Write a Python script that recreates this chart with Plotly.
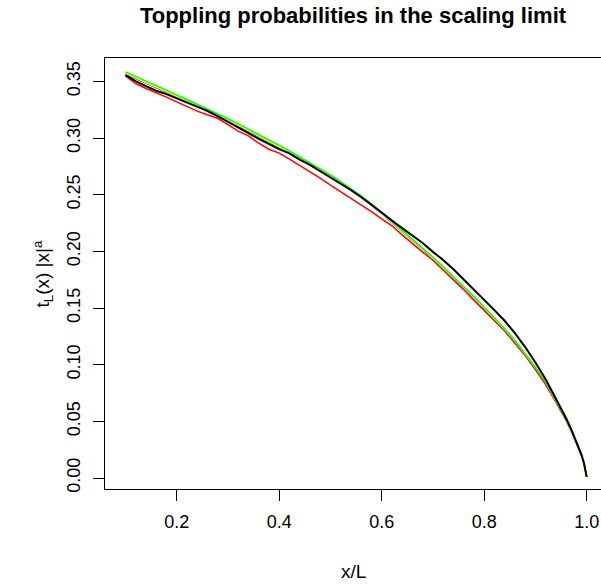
import plotly.graph_objects as go

x_over_L = [0.10, 0.12, 0.14, 0.16, 0.18, 0.20, 0.22, 0.24, 0.26, 0.28,
            0.30, 0.32, 0.34, 0.36, 0.38, 0.40, 0.42, 0.44, 0.46, 0.48,
            0.50, 0.52, 0.54, 0.56, 0.58, 0.60, 0.62, 0.64, 0.66, 0.68,
            0.70, 0.72, 0.74, 0.76, 0.78, 0.80, 0.82, 0.84, 0.86, 0.88,
            0.90, 0.92, 0.94, 0.95, 0.96, 0.97, 0.98, 0.99, 0.995, 1.00]

black_vals = [0.3556, 0.3502, 0.3458, 0.3418, 0.3388, 0.3350, 0.3312, 0.3278, 0.3240, 0.3194,
              0.3142, 0.3092, 0.3044, 0.2994, 0.2946, 0.2902, 0.2866, 0.2810, 0.2764, 0.2710,
              0.2655, 0.2598, 0.2542, 0.2480, 0.2416, 0.2344, 0.2272, 0.2204, 0.2134, 0.2074,
              0.1996, 0.1924, 0.1842, 0.1754, 0.1664, 0.1572, 0.1482, 0.1388, 0.1278, 0.1156,
              0.1020, 0.0872, 0.0704, 0.0616, 0.0527, 0.0429, 0.0322, 0.0204, 0.0128, 0.0010]

red_vals = [0.3550, 0.3482, 0.3438, 0.3403, 0.3362, 0.3320, 0.3278, 0.3238, 0.3206, 0.3175,
            0.3118, 0.3062, 0.3020, 0.2955, 0.2902, 0.2867, 0.2814, 0.2758, 0.2708, 0.2647,
            0.2585, 0.2528, 0.2472, 0.2408, 0.2352, 0.2288, 0.2226, 0.2146, 0.2066, 0.1994,
            0.1922, 0.1838, 0.1755, 0.1663, 0.1570, 0.1482, 0.1392, 0.1298, 0.1190, 0.1080,
            0.0958, 0.0824, 0.0670, 0.0591, 0.0507, 0.0413, 0.0310, 0.0196, 0.0123, 0.0010]

green_vals = [0.3585, 0.3543, 0.3502, 0.3462, 0.3422, 0.3382, 0.3341, 0.3300, 0.3258, 0.3215,
              0.3171, 0.3126, 0.3080, 0.3033, 0.2985, 0.2936, 0.2886, 0.2835, 0.2783, 0.2730,
              0.2675, 0.2617, 0.2556, 0.2491, 0.2420, 0.2346, 0.2264, 0.2188, 0.2110, 0.2030,
              0.1948, 0.1865, 0.1780, 0.1692, 0.1602, 0.1510, 0.1415, 0.1317, 0.1215, 0.1102,
              0.0979, 0.0848, 0.0690, 0.0605, 0.0518, 0.0422, 0.0316, 0.0198, 0.0124, 0.0010]

yellow_vals = [0.3572, 0.3530, 0.3488, 0.3448, 0.3408, 0.3368, 0.3327, 0.3286, 0.3244, 0.3201,
               0.3157, 0.3112, 0.3066, 0.3019, 0.2971, 0.2922, 0.2872, 0.2821, 0.2769, 0.2716,
               0.2662, 0.2605, 0.2545, 0.2481, 0.2411, 0.2338, 0.2256, 0.2180, 0.2102, 0.2022,
               0.1940, 0.1857, 0.1772, 0.1685, 0.1596, 0.1504, 0.1409, 0.1311, 0.1210, 0.1097,
               0.0976, 0.0846, 0.0688, 0.0604, 0.0517, 0.0421, 0.0315, 0.0198, 0.0124, 0.0010]

blue_vals = [0.3566, 0.3524, 0.3482, 0.3442, 0.3402, 0.3362, 0.3321, 0.3280, 0.3238, 0.3195,
             0.3151, 0.3106, 0.3060, 0.3013, 0.2965, 0.2916, 0.2866, 0.2815, 0.2763, 0.2710,
             0.2656, 0.2599, 0.2540, 0.2476, 0.2407, 0.2334, 0.2252, 0.2176, 0.2098, 0.2018,
             0.1936, 0.1853, 0.1768, 0.1681, 0.1592, 0.1500, 0.1406, 0.1308, 0.1207, 0.1094,
             0.0973, 0.0844, 0.0686, 0.0602, 0.0516, 0.0420, 0.0314, 0.0197, 0.0123, 0.0010]

x_ticks = [0.2, 0.4, 0.6, 0.8, 1.0]
y_ticks = [0.00, 0.05, 0.10, 0.15, 0.20, 0.25, 0.30, 0.35]

series = [
    (red_vals, "#FF0000", 1.5),
    (blue_vals, "#0000FF", 1.2),
    (yellow_vals, "#FFFF00", 1.5),
    (green_vals, "#00FF00", 1.5),
    (black_vals, "#000000", 2.0),
]

fig = go.Figure()
for vals, col, w in series:
    fig.add_trace(go.Scatter(x=x_over_L, y=vals, mode="lines",
                             line=dict(color=col, width=w), showlegend=False))

font_family = "Liberation Sans, Arial, Helvetica, sans-serif"

fig.update_layout(
    width=601, height=585,
    margin=dict(l=105, r=0, t=58, b=96, pad=0),
    paper_bgcolor="white", plot_bgcolor="white",
    font=dict(family=font_family, size=18, color="black"),
    title=dict(text="<b>Toppling probabilities in the scaling limit</b>",
               x=0.5, xref="paper", xanchor="center",
               y=1 - 15 / 585, yref="container", yanchor="middle",
               font=dict(size=22, family=font_family, color="black")),
    xaxis=dict(range=[0.0601, 1.028], tickvals=x_ticks,
               ticktext=[f"{v:.1f}" for v in x_ticks],
               showgrid=False, zeroline=False, showline=True, linecolor="black",
               linewidth=1, mirror=True, ticks="outside", ticklen=11,
               tickcolor="black", tickwidth=1, ticklabelstandoff=5,
               tickfont=dict(size=18)),
    yaxis=dict(range=[-0.0097, 0.3707], tickvals=y_ticks,
               ticktext=[f"{v:.2f}" for v in y_ticks],
               showgrid=False, zeroline=False, showline=True, linecolor="black",
               linewidth=1, mirror=False, ticks="outside", ticklen=11,
               tickcolor="black", tickwidth=1, tickangle=-90, ticklabelstandoff=6,
               tickfont=dict(size=18)),
    annotations=[
        dict(text="x/L", xref="paper", yref="paper", x=0.5, y=0,
             xanchor="center", yanchor="middle", yshift=-82, showarrow=False,
             font=dict(size=19, family=font_family)),
        dict(text="t<sub>L</sub>(x) |x|<sup>a</sup>", xref="paper", yref="paper",
             x=0, y=0.5, xanchor="center", yanchor="middle", xshift=-62,
             textangle=-90, showarrow=False, font=dict(size=19, family=font_family)),
    ],
)

fig.write_html("out.html")
